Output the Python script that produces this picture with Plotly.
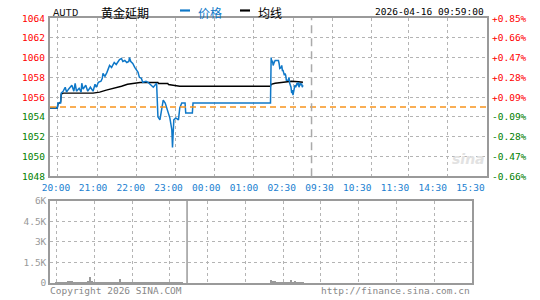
import plotly.graph_objects as go

W, H = 540, 300
ML, MR, MT, MB = 50, 53, 17, 15

# ---- data (minutes since 20:00 session open) ----
price_min = [0, 5, 11, 12, 16, 17, 20, 23, 25, 28, 33, 36, 38, 40, 44, 47, 48, 50, 54, 57,
             61, 65, 68, 70, 73, 77, 79, 80, 83, 86, 89, 90, 93, 97, 100, 105, 108, 110, 113, 116,
             119, 120, 122, 125, 128, 130, 133, 135, 138, 140, 145, 148, 151, 156, 161, 163, 166, 169, 171, 174,
             176, 178, 181, 184, 185, 187, 190, 194, 196, 199, 204, 205, 215, 216, 333, 334, 335, 336, 337, 338,
             340, 342, 345, 346, 347, 349, 350, 351, 352, 354, 355, 356, 357, 360, 361, 362, 364, 365, 366, 367,
             368, 369, 370, 371, 373, 374, 375, 376, 378, 379, 380, 381, 382]
price_val = [1054.9, 1054.9, 1054.9, 1055.4, 1055.4, 1056.4, 1056.6, 1057.0, 1056.5, 1056.8, 1057.2, 1056.6, 1057.4, 1056.6, 1056.9, 1056.5, 1057.4, 1056.8, 1057.2, 1056.6,
             1057.0, 1056.6, 1057.3, 1057.0, 1057.5, 1057.6, 1057.9, 1058.4, 1058.1, 1058.5, 1059.0, 1059.2, 1059.0, 1059.5, 1059.3, 1059.8, 1059.9, 1059.6, 1059.7, 1059.5,
             1059.6, 1060.0, 1059.6, 1059.4, 1059.0, 1058.8, 1058.5, 1058.0, 1057.9, 1057.5, 1057.6, 1057.5, 1057.3, 1057.0, 1057.4, 1054.0, 1053.7, 1054.7, 1055.7, 1055.4,
             1054.9, 1054.4, 1053.9, 1052.7, 1050.9, 1053.7, 1053.9, 1053.7, 1054.9, 1055.4, 1055.4, 1054.4, 1054.4, 1055.4, 1055.4, 1060.0, 1059.5, 1059.7, 1059.2, 1059.4,
             1059.7, 1059.7, 1059.7, 1059.4, 1058.9, 1059.0, 1059.2, 1058.7, 1058.7, 1058.2, 1058.4, 1058.2, 1057.7, 1057.7, 1058.0, 1057.4, 1057.0, 1056.4, 1056.7, 1056.2,
             1056.9, 1056.9, 1057.2, 1057.0, 1057.4, 1057.2, 1057.5, 1057.0, 1057.4, 1057.2, 1057.4, 1057.0, 1057.2]

avg_min = [0, 11, 12, 16, 17, 20, 65, 75, 85, 98, 108, 117, 128, 136, 163, 164, 178, 179, 186, 196,
           333, 334, 340, 350, 357, 365, 375, 382]
avg_val = [1054.9, 1054.9, 1055.3, 1055.5, 1056.3, 1056.4, 1056.4, 1056.5, 1056.7, 1056.9, 1057.1, 1057.3, 1057.4, 1057.47, 1057.47, 1057.37, 1057.37, 1057.27, 1057.2, 1057.1,
           1057.1, 1057.3, 1057.4, 1057.5, 1057.55, 1057.6, 1057.55, 1057.5]

vol_min = [10, 13, 16, 19, 22, 25, 28, 31, 34, 37, 40, 43, 46, 49, 52, 55, 58, 61, 64, 67,
           70, 73, 76, 79, 82, 85, 88, 91, 94, 97, 100, 103, 106, 109, 112, 115, 118, 121, 124, 127,
           130, 133, 136, 139, 142, 145, 148, 151, 154, 157, 160, 163, 166, 169, 172, 175, 178, 181, 184, 187,
           190, 193, 196, 199,
           334, 337, 340, 343, 346, 349, 352, 355, 358, 361, 364, 367, 370, 373, 376, 379, 382]
vol_val = [110, 90, 120, 100, 130, 110, 170, 190, 150, 120, 100, 110, 90, 120, 100, 130, 160, 480, 140, 130,
           110, 120, 100, 90, 110, 100, 120, 110, 100, 130, 110, 120, 300, 110, 100, 90, 110, 100, 120, 130,
           100, 90, 110, 100, 80, 90, 100, 110, 80, 70, 90, 100, 80, 110, 90, 120, 70, 60, 90, 50,
           80, 40, 60, 30,
           260, 170, 150, 110, 100, 100, 90, 110, 100, 90, 240, 110, 170, 90, 120, 80, 60]

prev_close = 1055.0
session_len = 660
night_end = 395
day_split = 207

y_ticks = [1048, 1050, 1052, 1054, 1056, 1058, 1060, 1062, 1064]
y_labels = ["1048", "1050", "1052", "1054", "1056", "1058", "1060", "1062", "1064"]
pct_labels = ["-0.66%", "-0.47%", "-0.28%", "-0.09%", "+0.09%", "+0.28%", "+0.47%", "+0.66%", "+0.85%"]
time_ticks = [9, 65, 122, 179, 236, 293, 350, 407, 464, 521, 578, 635]
time_labels = ["20:00", "21:00", "22:00", "23:00", "00:00", "01:00", "02:30", "09:30", "10:30", "11:30", "14:30", "15:30"]
main_grid = [12, 71, 131, 189, 249, 307, 367, 426, 485, 542, 601]
vol_grid = [10, 67, 124, 181, 238, 295, 352, 409, 466, 523, 580]
vol_ticks = [0, 1500, 3000, 4500, 6000]
vol_labels = ["0", "1.5K", "3K", "4.5K", "6K"]

# ---- styling ----
BLUE = "#0f78c8"
RED = "#ff0000"
GREEN = "#008000"
GRID = "#b4b4b4"
BORDER = "#9a9a9a"
MONO = "DejaVu Sans Mono"
CJK = "Noto Sans CJK SC"
FS = 9.5

PW = W - ML - MR
PH = H - MT - MB
def px(x):
    return (x - ML) / PW
def py(y):
    return (H - MB - y) / PH

main_dom = [py(177), 1.0]
vol_dom = [0.0, py(201.7)]
vol_xdom = [0.0, px(472)]
vol_xmax = session_len * (472 - ML) / PW
YR = [y_ticks[0], y_ticks[-1]]

fig = go.Figure()
fig.add_trace(go.Scatter(x=avg_min, y=avg_val, mode="lines", line=dict(color="#000000", width=1.4),
                         xaxis="x", yaxis="y", hoverinfo="skip", showlegend=False))
fig.add_trace(go.Scatter(x=price_min, y=price_val, mode="lines", line=dict(color=BLUE, width=1.5),
                         xaxis="x", yaxis="y", hoverinfo="skip", showlegend=False))
fig.add_trace(go.Bar(x=vol_min, y=vol_val, width=2.6, marker=dict(color="#9a9a9a", line=dict(width=0)),
                     xaxis="x2", yaxis="y3", hoverinfo="skip", showlegend=False))
# helper trace so the overlay time-label axis renders
fig.add_trace(go.Scatter(x=[0, session_len], y=[YR[0], YR[0]], mode="lines", line=dict(width=0),
                         xaxis="x3", yaxis="y", hoverinfo="skip", showlegend=False))

axline = dict(showline=True, mirror=True, linecolor=BORDER, linewidth=1.5, zeroline=False, ticks="")
grid = dict(showgrid=True, gridcolor=GRID, griddash="dot", gridwidth=1)

fig.update_layout(
    width=W, height=H, margin=dict(l=ML, r=MR, t=MT, b=MB),
    paper_bgcolor="white", plot_bgcolor="white", showlegend=False,
    font=dict(family=MONO, size=FS),
    xaxis=dict(domain=[0, 1], anchor="y", range=[0, session_len], tickvals=main_grid,
               showticklabels=False, **grid, **axline),
    xaxis3=dict(overlaying="x", anchor="y", range=[0, session_len], tickvals=time_ticks,
                ticktext=time_labels, showgrid=False, showline=False, zeroline=False,
                ticks="outside", ticklen=2, tickcolor="rgba(0,0,0,0)",
                tickfont=dict(family=MONO, size=FS, color="#1a80d0")),
    yaxis=dict(domain=main_dom, anchor="x", range=YR, tickvals=y_ticks[1:-1],
               showticklabels=False, **grid, **axline),
    xaxis2=dict(domain=vol_xdom, anchor="y3", range=[0, vol_xmax], tickvals=vol_grid,
                showticklabels=False, **grid, **axline),
    yaxis3=dict(domain=vol_dom, anchor="x2", range=[0, 6000], tickvals=vol_ticks, ticktext=vol_labels,
                **grid, **axline, tickfont=dict(family=MONO, size=FS, color="#999999")),
    bargap=0,
)

# price-panel axis labels: red above previous close, green below (placed on the y scale)
for v, lab, pct in zip(y_ticks, y_labels, pct_labels):
    c = RED if v > prev_close else GREEN
    fig.add_annotation(text=lab, xref="paper", yref="y", x=px(46.5), y=v, xanchor="right",
                       yanchor="middle", showarrow=False, font=dict(family=MONO, size=FS, color=c))
    fig.add_annotation(text=pct, xref="paper", yref="y", x=px(490.5), y=v, xanchor="left",
                       yanchor="middle", showarrow=False, font=dict(family=MONO, size=FS, color=c))

# reference lines
fig.add_shape(type="line", xref="x domain", yref="y", x0=0, x1=1, y0=prev_close, y1=prev_close,
              line=dict(color="#f7941d", width=1.5, dash="6px,4px"))
fig.add_shape(type="line", xref="x", yref="y domain", x0=night_end, x1=night_end, y0=0, y1=1,
              line=dict(color="#aaaaaa", width=1.5, dash="8px,5px"))
fig.add_shape(type="line", xref="x2", yref="y3 domain", x0=day_split, x1=day_split, y0=0, y1=1,
              line=dict(color=BORDER, width=1.5))

# header legend swatches
fig.add_shape(type="rect", xref="paper", yref="paper", x0=px(180), x1=px(190), y0=py(10.5), y1=py(8.3),
              fillcolor=BLUE, line=dict(width=0))
fig.add_shape(type="rect", xref="paper", yref="paper", x0=px(240), x1=px(250), y0=py(10.5), y1=py(8.3),
              fillcolor="#000000", line=dict(width=0))

def ann(text, x, y, anchor="left", size=FS, color="#000000", family=MONO, **kw):
    fig.add_annotation(text=text, xref="paper", yref="paper", x=px(x), y=py(y), xanchor=anchor,
                       yanchor="middle", showarrow=False, font=dict(size=size, color=color, family=family),
                       **kw)

ann("AUTD", 51, 11.5, size=10.5, color="#111111", family="Liberation Mono")
ann("黄金延期", 99, 11, size=12, family=CJK)
ann("价格", 196, 11, size=12, color=BLUE, family=CJK)
ann("均线", 256, 11, size=12, family=CJK)
ann("2026-04-16 09:59:00", 485.5, 10.5, anchor="right", size=FS)
ann("Copyright 2026 SINA.COM", 47.5, 292.5, size=FS, color="#888888")
ann("http://finance.sina.com.cn", 471.5, 292.5, anchor="right", size=FS, color="#888888")
ann("<b><i>sina</i></b>", 468, 160, anchor="center", size=14, color="#e2e2e2", family="DejaVu Sans")

fig.write_html("out.html")
